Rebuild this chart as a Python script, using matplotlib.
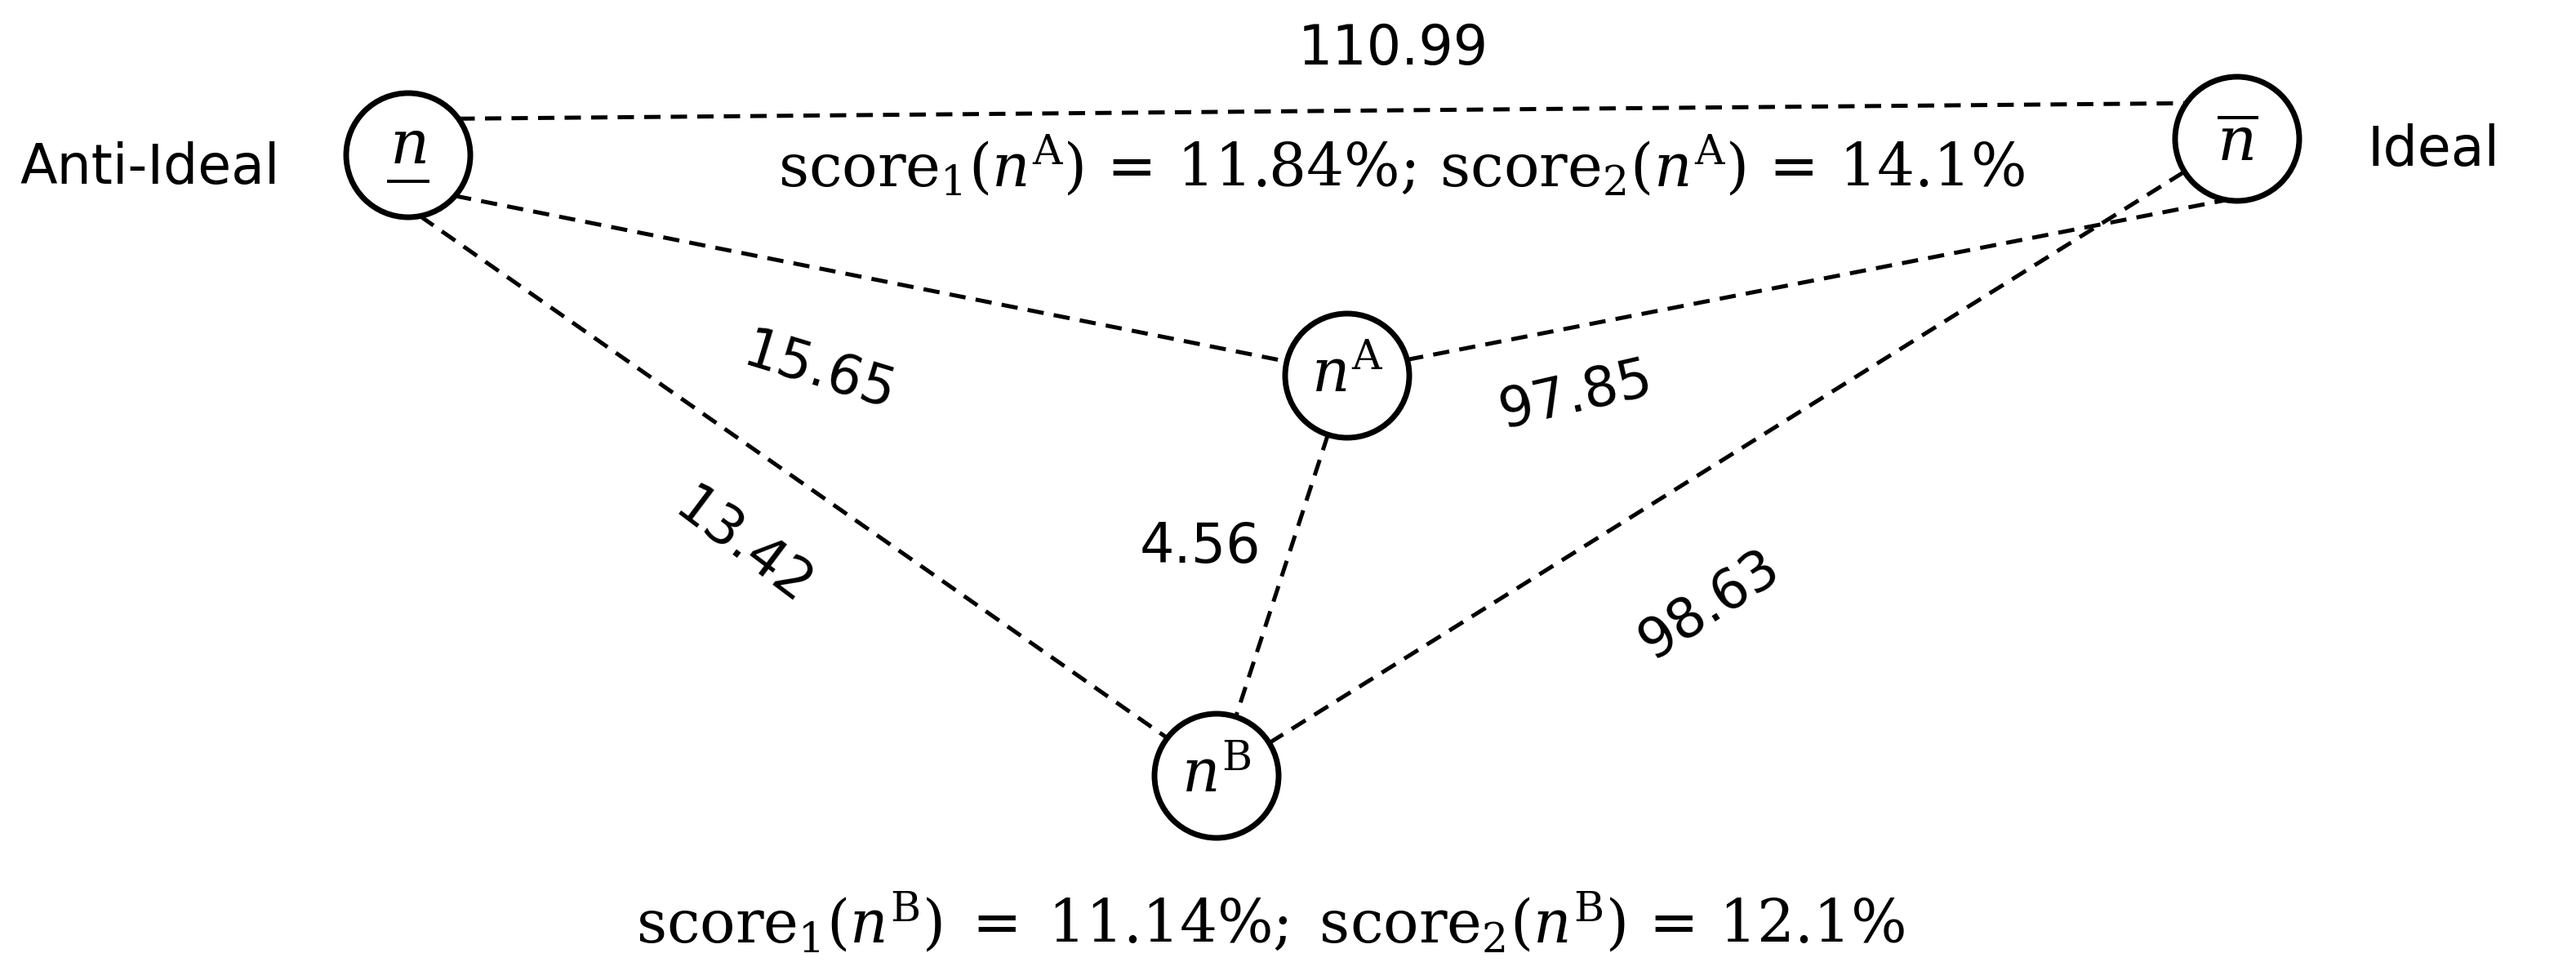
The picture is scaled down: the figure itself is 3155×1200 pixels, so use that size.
import matplotlib
matplotlib.use("Agg")
import matplotlib.pyplot as plt
from matplotlib.patches import Circle
import numpy as np

plt.rcParams['mathtext.fontset'] = 'dejavuserif'

node_names = ["anti", "ideal", "A", "B"]
node_x = [250, 1370, 825, 745]
node_y = [95, 85, 230, 475]
edges = [("anti", "ideal"), ("anti", "A"), ("anti", "B"), ("A", "ideal"), ("A", "B"), ("B", "ideal")]
edge_labels = ["110.99", "15.65", "13.42", "97.85", "4.56", "98.63"]
label_pos = [(853, 30), (502, 228), (455, 335), (965, 242), (735, 335), (1047, 370)]
label_rot = [0, -17, -37, 13, 0, 33]
# attachment angles (deg, y-down) at start and end circle; None = centre-to-centre
attach = [(-36, 215), (41, None), (79, None), (None, 100), (None, None), (None, None)]
scoreA = r"$\mathrm{score}_1(n^{\mathrm{A}})\,=\,11.84\%;\,\mathrm{score}_2(n^{\mathrm{A}})\,=\,14.1\%$"
scoreB = r"$\mathrm{score}_1(n^{\mathrm{B}})\;=\;11.14\%;\;\mathrm{score}_2(n^{\mathrm{B}})\,=\,12.1\%$"

R = 38
fig = plt.figure(figsize=(31.55, 12), dpi=100)
ax = fig.add_axes([0, 0, 1, 1])
ax.set_xlim(0, 1577.5)
ax.set_ylim(600, 0)
ax.axis('off')
pos = {n: np.array([x, y], float) for n, x, y in zip(node_names, node_x, node_y)}

def pt(c, ang, other, sign):
    if ang is None:
        d = (other - c) / np.linalg.norm(other - c)
        return c + d * R
    a = np.radians(ang)
    return c + R * np.array([np.cos(a), np.sin(a)])

for (a, b), (a1, a2) in zip(edges, attach):
    p, q = pos[a], pos[b]
    s = pt(p, a1, q, 1)
    e = pt(q, a2, p, -1)
    ax.plot([s[0], e[0]], [s[1], e[1]], ls=(0, (4, 2.5)), color='black', lw=3.6)

for n in node_names:
    ax.add_patch(Circle(pos[n], R, fill=False, ec='black', lw=5, zorder=3))

fs = 48
ax.text(*pos["anti"] + [0, -5], r"$n$", fontsize=54, ha='center', va='center')
ax.plot([pos["anti"][0] - 12, pos["anti"][0] + 12], [pos["anti"][1] + 16] * 2, color='black', lw=2.8)
ax.text(*pos["ideal"] + [0, 3], r"$\overline{n}$", fontsize=54, ha='center', va='center')
ax.text(*pos["A"], r"$n^{\mathrm{A}}$", fontsize=52, ha='center', va='center')
ax.text(*pos["B"], r"$n^{\mathrm{B}}$", fontsize=52, ha='center', va='center')

ax.text(92, 103, "Anti-Ideal", fontsize=fs, ha='center', va='center')
ax.text(1490, 92, "Ideal", fontsize=fs, ha='center', va='center')

for t, (x, y), r in zip(edge_labels, label_pos, label_rot):
    ax.text(x, y, t, fontsize=fs, ha='center', va='center', rotation=r, rotation_mode='anchor')

ax.text(858, 102, scoreA, fontsize=52, ha='center', va='center')
ax.text(778, 565, scoreB, fontsize=52, ha='center', va='center')

fig.savefig("out.png", dpi=100)
